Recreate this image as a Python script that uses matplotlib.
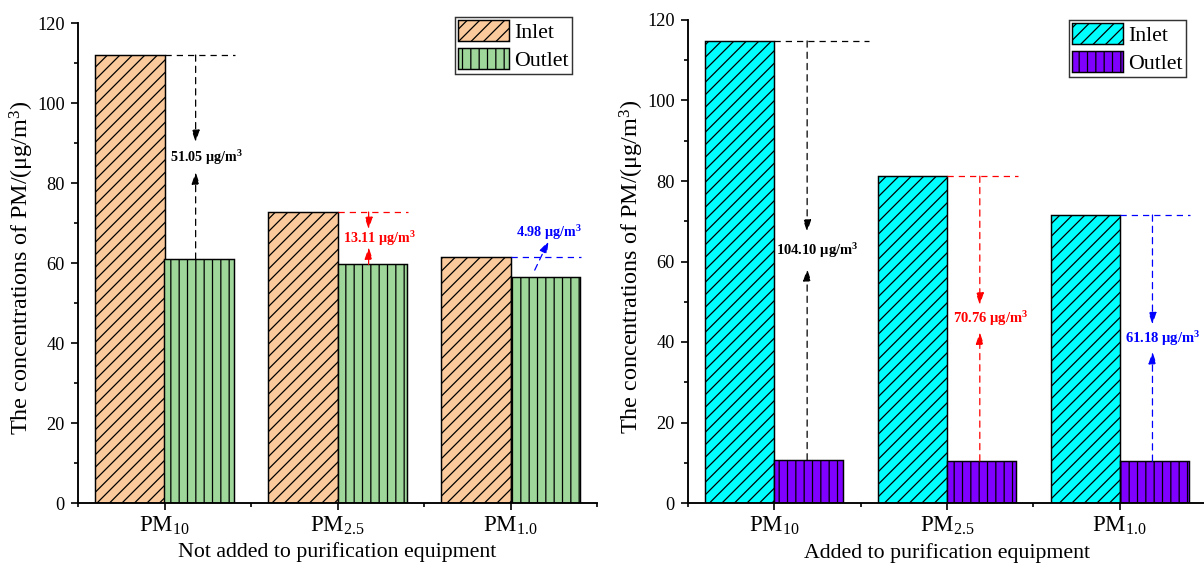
import matplotlib
matplotlib.use("Agg")
import matplotlib.pyplot as plt
import numpy as np

plt.rcParams['font.family'] = ['Liberation Serif', 'DejaVu Serif']
plt.rcParams['mathtext.fontset'] = 'custom'
plt.rcParams['mathtext.rm'] = 'Liberation Serif'
plt.rcParams['mathtext.it'] = 'Liberation Serif:italic'
plt.rcParams['mathtext.bf'] = 'Liberation Serif:bold'
plt.rcParams['hatch.linewidth'] = 0.6

# ---------------- data ----------------
categories = ['PM$_{\\mathrm{10}}$', 'PM$_{\\mathrm{2.5}}$', 'PM$_{\\mathrm{1.0}}$']
left_inlet = [112.0, 72.75, 61.5]
left_outlet = [60.95, 59.64, 56.52]
left_diff = ['51.05', '13.11', '4.98']
right_inlet = [114.8, 81.2, 71.55]
right_outlet = [10.7, 10.44, 10.37]
right_diff = ['104.10', '70.76', '61.18']
ann_colors = ['black', '#FF0000', '#0000FF']
yticks = [0, 20, 40, 60, 80, 100, 120]

DPI = 150
fig = plt.figure(figsize=(1204 / DPI, 571 / DPI), dpi=DPI)
ax1 = fig.add_axes([78 / 1204, 1 - 503 / 571, (597 - 78) / 1204, (503 - 23) / 571])
ax2 = fig.add_axes([688 / 1204, 1 - 503 / 571, (1206 - 688) / 1204, (503 - 20) / 571])

x = np.arange(1, len(categories) + 1)
w = 0.4


def style_axes(ax, xlabel):
    ax.set_xlim(0.5, 3.5)
    ax.set_ylim(0, 120)
    for s in ['top', 'right']:
        ax.spines[s].set_visible(False)
    for s in ['left', 'bottom']:
        ax.spines[s].set_linewidth(0.9)
    ax.set_yticks(yticks)
    ax.set_yticks(np.arange(10, 120, 20), minor=True)
    ax.set_xticks(x)
    ax.set_xticklabels(categories, fontsize=11)
    ax.set_xticks([0.5, 1.5, 2.5, 3.5], minor=True)
    ax.tick_params(axis='y', which='major', direction='out', length=3.4, width=0.8,
                   labelsize=8.8, pad=3)
    ax.tick_params(axis='x', which='major', direction='out', length=3.4, width=0.8, pad=2)
    ax.tick_params(which='minor', direction='out', length=2, width=0.8)
    ax.set_xlabel(xlabel, fontsize=10.5)
    ax.xaxis.set_label_coords(0.5, -0.082)
    ax.set_ylabel('The concentrations of PM/(μg/m$^{\\mathrm{3}}$)', fontsize=11.6)
    ax.yaxis.set_label_coords(-0.081, 0.49)


def bars(ax, inlet, outlet, c_in, c_out, legend_anchor):
    ax.bar(x - w / 2, inlet, w, color=c_in, edgecolor='black', linewidth=0.7,
           hatch='////', label='Inlet', zorder=2)
    ax.bar(x + w / 2, outlet, w, color=c_out, edgecolor='black', linewidth=0.7,
           hatch='|||', label='Outlet', zorder=2)
    leg = ax.legend(loc='upper right', bbox_to_anchor=legend_anchor,
                    bbox_transform=fig.transFigure, fontsize=10.5, frameon=True,
                    fancybox=False, edgecolor='black', borderaxespad=0,
                    handlelength=2.3, handleheight=1.1, handletextpad=0.25,
                    labelspacing=0.2, borderpad=0.15)
    leg.get_frame().set_linewidth(0.7)


def dline(ax, x0, x1, y, c):
    ax.plot([x0, x1], [y, y], color=c, lw=0.6, linestyle=(0, (5, 4)), zorder=3)


def darrow(ax, x0, y0, x1, y1, c):
    ax.annotate('', xy=(x1, y1), xytext=(x0, y0),
                arrowprops=dict(arrowstyle='-|>,head_length=0.6,head_width=0.2',
                                color=c, lw=0.6, linestyle=(0, (5, 4)),
                                shrinkA=0, shrinkB=0, mutation_scale=8),
                zorder=4)


def label(ax, xc, yc, txt, c, fs):
    ax.text(xc, yc, txt + ' μg/m$^{\\mathbf{3}}$', color=c, fontsize=fs,
            fontweight='bold', ha='center', va='center', zorder=5)


# ---------- left panel ----------
bars(ax1, left_inlet, left_outlet, '#FAC99C', '#9FD79A', (572 / 1204, 1 - 17 / 571))
style_axes(ax1, 'Not added to purification equipment')
for i in range(3):
    c = ann_colors[i]
    yi, yo = left_inlet[i], left_outlet[i]
    xa = x[i] + w / 2 - 0.02
    dline(ax1, x[i], x[i] + w + 0.01, yi, c)
    if i < 2:
        mid = (yi + yo) / 2
        gap = 3.75 if i == 0 else 2.25
        darrow(ax1, xa, yi, xa, mid + gap, c)
        darrow(ax1, xa, yo, xa, mid - gap, c)
        label(ax1, xa + 0.06, mid, left_diff[i], c, 6.8)
    else:
        darrow(ax1, x[i] + 0.14, yo + 1.7, x[i] + 0.22, yi + 4.0, c)
        label(ax1, x[i] + 0.22, yi + 6.2, left_diff[i], c, 6.8)

# ---------- right panel ----------
bars(ax2, right_inlet, right_outlet, '#00FFFF', '#7F00FF', (1186 / 1204, 1 - 20 / 571))
style_axes(ax2, 'Added to purification equipment')
for i in range(3):
    c = ann_colors[i]
    yi, yo = right_inlet[i], right_outlet[i]
    xa = x[i] + w / 2 - 0.01
    ext = 0.55 if i == 0 else w + 0.01
    dline(ax2, x[i], x[i] + ext, yi, c)
    mid = (yi + yo) / 2
    gap = 4.6 if i == 0 else 3.4
    darrow(ax2, xa, yi, xa, mid + gap, c)
    darrow(ax2, xa, yo, xa, mid - gap, c)
    label(ax2, xa + 0.06, mid, right_diff[i], c, 7)

fig.savefig('out.png', dpi=DPI)
